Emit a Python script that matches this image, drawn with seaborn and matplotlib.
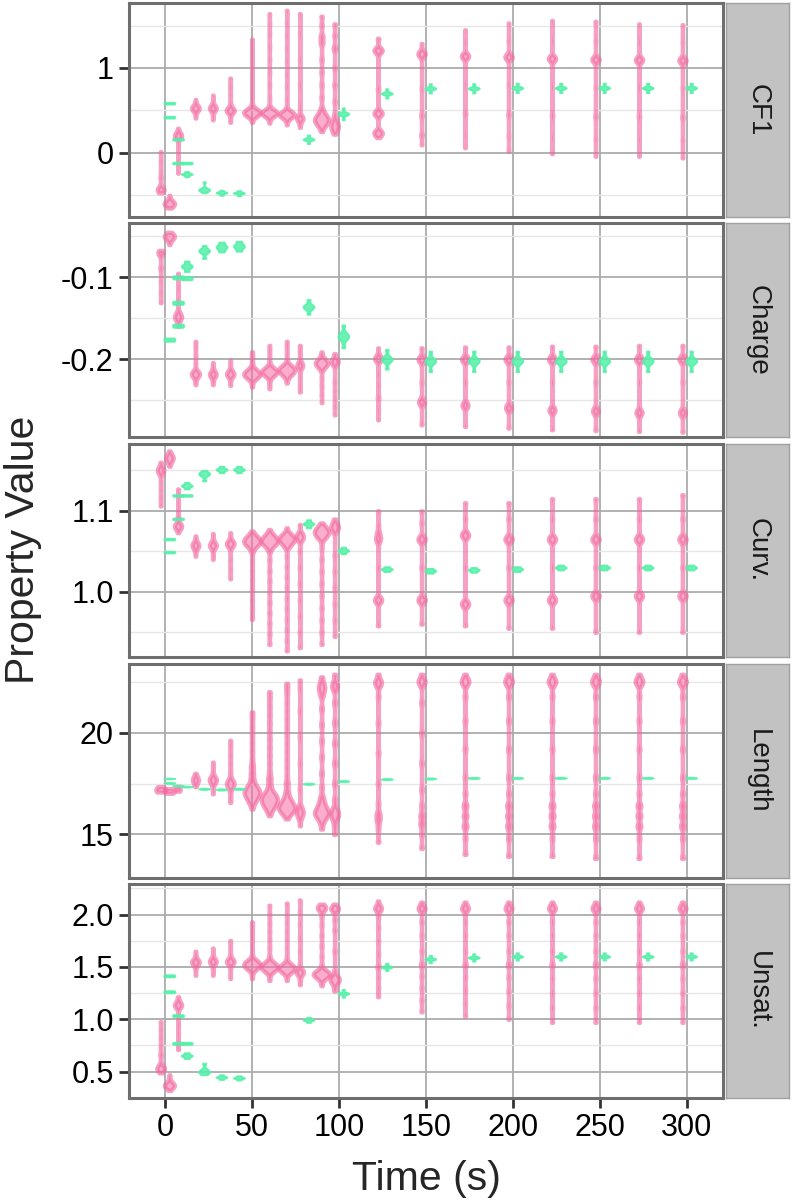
import numpy as np
import pandas as pd
import seaborn as sns
import matplotlib.pyplot as plt

sns.set_theme(style="whitegrid")
plt.rcParams['font.family'] = ['Liberation Sans', 'DejaVu Sans']
plt.rcParams['axes.unicode_minus'] = False

panels = ["CF1", "Charge", "Curv.", "Length", "Unsat."]
times = [0, 5, 10, 20, 30, 40, 50, 60, 70, 80, 90, 100, 125, 150, 175, 200, 225, 250, 275, 300]
green_times = [0, 5, 10, 20, 30, 40, 80, 100, 125, 150, 175, 200, 225, 250, 275, 300]

# pink violins: observations per time in `times`; (value, n) means n repeats
cf1_pink = [
    [-0.47, (-0.45, 3), (-0.435, 4), (-0.42, 3), -0.40, (-0.29, 2), -0.20, -0.10, 0.015],
    [-0.65, (-0.63, 3), (-0.615, 5), (-0.60, 7), (-0.585, 5), (-0.565, 3), -0.54, -0.50],
    [-0.24, -0.12, 0.0, 0.10, (0.18, 3), (0.20, 5), (0.22, 4), 0.25, 0.29],
    [0.41, 0.46, (0.505, 4), (0.525, 7), (0.545, 4), 0.58, 0.63],
    [0.39, 0.45, (0.505, 3), (0.525, 6), (0.545, 4), 0.60, 0.68],
    [0.36, 0.42, (0.48, 4), (0.50, 6), (0.52, 4), 0.58, 0.68, 0.78, 0.88],
    [0.36, 0.40, (0.43, 4), (0.45, 7), (0.47, 8), (0.49, 7), (0.51, 5), (0.53, 2), 0.60, 0.75, 0.90, 1.05, 1.20, 1.34],
    [0.35, 0.40, (0.43, 3), (0.45, 7), (0.47, 9), (0.49, 6), (0.51, 3), 0.55, 0.65, 0.80, 0.95, 1.10, 1.25, 1.40, 1.52, 1.64],
    [0.33, 0.38, (0.41, 3), (0.43, 6), (0.45, 9), (0.47, 6), (0.49, 3), 0.53, 0.63, 0.78, 0.93, 1.08, 1.23, 1.38, 1.53, 1.68],
    [0.30, 0.35, (0.39, 3), (0.41, 4), (0.43, 2), 0.55, 0.80, 1.10, 1.40, 1.64],
    [0.25, (0.30, 2), (0.33, 3), (0.36, 4), (0.39, 5), (0.42, 4), (0.45, 3), (0.49, 2), 0.53, 0.65, 0.80, 0.95, 1.10, (1.30, 2), (1.37, 2), 1.50, 1.61],
    [0.22, (0.26, 2), (0.30, 3), (0.34, 3), (0.39, 2), 0.45, 0.60, 0.80, 1.00, (1.23, 2), 1.38, 1.52],
    [0.18, (0.22, 2), (0.24, 3), 0.26, (0.45, 2), (0.47, 3), 0.49, 0.75, (1.19, 2), (1.21, 3), 1.23, 1.35],
    [0.094, (0.21, 2), (0.44, 2), 0.75, (1.14, 3), (1.165, 5), (1.19, 3), 1.29],
    [0.06, 0.22, (0.46, 2), 0.80, (1.12, 3), (1.14, 5), (1.16, 3), 1.30, 1.45],
    [0.02, 0.20, (0.45, 2), 0.80, (1.11, 3), (1.13, 5), (1.15, 3), 1.32, 1.53],
    [-0.01, 0.18, (0.44, 2), 0.78, (1.09, 3), (1.11, 5), (1.13, 3), 1.32, 1.56],
    [-0.04, 0.16, (0.43, 2), 0.77, (1.08, 3), (1.10, 5), (1.12, 3), 1.32, 1.55],
    [-0.04, 0.16, (0.43, 2), 0.77, (1.075, 3), (1.095, 5), (1.115, 3), 1.30, 1.52],
    [-0.06, 0.15, (0.42, 2), 0.76, (1.07, 3), (1.09, 5), (1.11, 3), 1.30, 1.51],
]
charge_pink = [
    [-0.131, -0.118, -0.105, (-0.0885, 2), (-0.072, 3), (-0.0695, 4), (-0.067, 2)],
    [-0.060, (-0.055, 3), (-0.052, 6), (-0.050, 7), (-0.048, 6), (-0.045, 3)],
    [-0.160, (-0.153, 3), (-0.149, 5), (-0.146, 4), (-0.142, 2), -0.128, -0.112, -0.095],
    [-0.231, -0.226, (-0.221, 4), (-0.218, 7), (-0.215, 4), -0.205, -0.195, -0.186, -0.178],
    [-0.231, -0.226, (-0.221, 4), (-0.218, 6), (-0.215, 3), -0.210, -0.204],
    [-0.232, -0.227, (-0.221, 4), (-0.218, 7), (-0.215, 4), -0.209, -0.201],
    [-0.234, -0.229, (-0.225, 3), (-0.222, 7), (-0.219, 10), (-0.216, 9), (-0.213, 5), (-0.210, 2), -0.205, -0.200, -0.195, -0.191],
    [-0.236, -0.230, -0.225, (-0.221, 4), (-0.218, 8), (-0.215, 10), (-0.212, 7), (-0.209, 3), -0.204, -0.197, -0.190, -0.183],
    [-0.229, -0.225, (-0.221, 3), (-0.218, 6), (-0.215, 8), (-0.212, 9), (-0.209, 6), (-0.206, 3), -0.200, -0.193, -0.185, -0.178],
    [-0.240, -0.232, -0.222, (-0.211, 2), (-0.208, 4), (-0.205, 3), -0.199, -0.191, -0.183],
    [-0.253, -0.243, -0.233, -0.223, (-0.212, 3), (-0.208, 6), (-0.205, 8), (-0.202, 6), (-0.199, 3), -0.195, -0.191],
    [-0.268, -0.258, -0.248, -0.238, -0.228, (-0.206, 3), (-0.203, 5), (-0.200, 3), -0.196, -0.193],
    [-0.274, -0.262, (-0.247, 2), -0.232, -0.218, (-0.202, 3), (-0.199, 5), (-0.196, 3), -0.186],
    [-0.280, (-0.255, 2), (-0.252, 3), (-0.249, 2), -0.228, (-0.203, 2), (-0.200, 4), (-0.197, 2), -0.186],
    [-0.282, (-0.259, 2), (-0.256, 3), (-0.253, 2), -0.228, (-0.203, 2), (-0.200, 4), (-0.197, 2), -0.185],
    [-0.284, (-0.262, 2), (-0.259, 3), (-0.256, 2), -0.228, (-0.203, 2), (-0.200, 4), (-0.197, 2), -0.185],
    [-0.286, (-0.265, 2), (-0.262, 3), (-0.259, 2), -0.228, (-0.203, 2), (-0.200, 4), (-0.197, 2), -0.184],
    [-0.287, (-0.266, 2), (-0.263, 3), (-0.260, 2), -0.228, (-0.203, 2), (-0.200, 4), (-0.197, 2), -0.184],
    [-0.288, (-0.268, 2), (-0.265, 3), (-0.262, 2), -0.228, (-0.203, 2), (-0.200, 4), (-0.197, 2), -0.183],
    [-0.289, (-0.268, 2), (-0.265, 3), (-0.262, 2), -0.228, (-0.203, 2), (-0.200, 4), (-0.197, 2), -0.183],
]
curv_pink = [
    [1.106, 1.116, 1.126, 1.136, (1.146, 3), (1.150, 5), (1.154, 3), 1.16],
    [1.155, 1.158, (1.161, 4), (1.165, 7), (1.169, 5), 1.174],
    [1.073, (1.078, 3), (1.081, 5), (1.084, 3), (1.091, 2), 1.10, 1.11, 1.12, 1.127],
    [1.044, 1.050, (1.054, 3), (1.057, 6), (1.060, 4), 1.064, 1.069],
    [1.040, 1.047, (1.054, 3), (1.057, 6), (1.060, 4), 1.065, 1.072],
    [1.016, 1.028, 1.040, (1.055, 3), (1.059, 7), (1.062, 4), 1.067, 1.073],
    [0.966, 0.978, 0.99, 1.002, 1.014, 1.026, 1.038, (1.050, 2), (1.055, 4), (1.059, 8), (1.063, 9), (1.067, 7), (1.071, 3), 1.075],
    [0.935, 0.948, 0.961, 0.974, 0.987, 1.00, 1.013, 1.026, 1.039, (1.051, 2), (1.056, 4), (1.060, 8), (1.064, 8), (1.068, 6), (1.072, 3), 1.077],
    [0.927, 0.94, 0.953, 0.966, 0.979, 0.992, 1.005, 1.018, 1.031, 1.044, (1.055, 3), (1.060, 6), (1.064, 8), (1.068, 7), (1.072, 4), 1.079],
    [0.931, 0.95, 0.97, 0.99, 1.01, 1.03, 1.05, (1.064, 3), (1.068, 4), (1.072, 3), 1.083],
    [0.935, 0.95, 0.965, 0.98, 0.995, 1.01, 1.025, 1.04, 1.055, (1.064, 2), (1.068, 5), (1.072, 7), (1.076, 7), (1.080, 4), 1.083, 1.085],
    [0.945, 0.965, 0.985, 1.005, 1.025, 1.045, (1.074, 2), (1.078, 4), (1.082, 4), (1.086, 2), 1.09],
    [0.958, (0.987, 2), (0.990, 3), (0.993, 2), 1.03, (1.062, 2), (1.067, 3), (1.073, 2), 1.082, 1.10],
    [0.960, (0.987, 2), (0.990, 3), (0.993, 2), 1.03, (1.062, 2), (1.065, 3), (1.068, 2), 1.085, 1.100],
    [0.958, (0.982, 2), (0.985, 3), (0.988, 2), 1.03, (1.067, 2), (1.070, 3), (1.073, 2), 1.09, 1.110],
    [0.955, (0.987, 2), (0.990, 3), (0.993, 2), 1.03, (1.062, 2), (1.065, 3), (1.068, 2), 1.09, 1.110],
    [0.955, (0.987, 2), (0.990, 3), (0.993, 2), 1.03, (1.062, 2), (1.065, 3), (1.068, 2), 1.09, 1.115],
    [0.950, (0.992, 2), (0.995, 3), (0.998, 2), 1.03, (1.062, 2), (1.065, 3), (1.068, 2), 1.09, 1.115],
    [0.950, (0.992, 2), (0.995, 3), (0.998, 2), 1.03, (1.062, 2), (1.065, 3), (1.068, 2), 1.09, 1.115],
    [0.950, (0.992, 2), (0.995, 3), (0.998, 2), 1.03, (1.062, 2), (1.065, 3), (1.068, 2), 1.09, 1.120],
]
length_pink = [
    [17.08, (17.13, 4), (17.17, 7), (17.21, 7), (17.25, 4), 17.35],
    [17.02, (17.07, 4), (17.11, 7), (17.15, 7), (17.19, 4), 17.25],
    [17.12, (17.19, 3), (17.24, 4), (17.28, 2), 17.36],
    [17.35, 17.45, (17.60, 3), (17.68, 5), (17.76, 3), 17.88, 18.01],
    [16.99, 17.25, 17.45, (17.60, 3), (17.68, 6), (17.76, 3), 17.95, 18.2, 18.56],
    [16.57, 16.85, 17.15, (17.35, 3), (17.48, 4), (17.6, 3), 17.75, 18.1, 18.5, 18.9, 19.3, 19.64],
    [16.24, (16.5, 2), (16.7, 4), (16.9, 5), (17.07, 6), (17.25, 5), (17.45, 3), (17.7, 2), (18.0, 2), (18.35, 2), 18.7, 19.1, 19.5, 19.9, 20.3, 20.7, 21.04],
    [15.91, (16.15, 2), (16.35, 4), (16.55, 5), (16.72, 5), (16.9, 5), (17.1, 3), (17.4, 2), (17.75, 2), 18.1, 18.5, 18.9, 19.3, 19.7, 20.1, 20.5, 20.9, 21.3, 21.7, 22.04],
    [15.75, (15.95, 2), (16.1, 4), (16.25, 5), (16.4, 5), (16.58, 4), (16.8, 3), (17.1, 2), (17.5, 2), 17.9, 18.3, 18.7, 19.1, 19.5, 19.9, 20.3, 20.7, 21.1, 21.5, 21.9, 22.2, 22.45],
    [15.41, (15.8, 2), (16.0, 3), (16.15, 3), (16.35, 2), 17.2, 18.5, 19.8, 21.1, 22.2, 22.62],
    [15.25, (15.6, 2), (15.85, 4), (16.05, 5), (16.25, 4), (16.5, 3), (16.8, 2), 17.3, 18.0, 18.8, 19.6, 20.4, 21.2, (21.9, 2), (22.2, 3), (22.45, 2), 22.77],
    [14.99, 15.4, (15.75, 2), (16.0, 3), (16.25, 2), 16.7, 17.5, 18.5, 19.5, 20.5, 21.5, (22.2, 2), (22.45, 2), 22.9],
    [14.6, 15.3, (15.7, 2), (16.0, 2), 16.5, 17.5, 19.0, 20.5, 21.8, (22.35, 2), (22.55, 3), 22.9],
    [14.3, 15.0, (15.5, 2), (15.9, 2), 16.4, 17.2, 18.5, 20.0, 21.5, (22.4, 2), (22.6, 3), 22.9],
    [14.0, 14.8, (15.4, 2), (15.9, 2), (16.4, 2), 17.0, 17.8, 19.2, 20.6, 21.8, (22.4, 2), (22.6, 3), 22.9],
    [13.9, 14.8, (15.4, 2), (15.9, 2), (16.4, 2), 17.0, 17.8, 19.2, 20.6, 21.8, (22.4, 2), (22.6, 3), 22.9],
    [13.9, 14.8, (15.4, 2), (15.9, 2), (16.4, 2), 17.0, 17.8, 19.2, 20.6, 21.8, (22.4, 2), (22.6, 3), 22.9],
    [13.8, 14.8, (15.4, 2), (15.9, 2), (16.4, 2), 17.0, 17.8, 19.2, 20.6, 21.8, (22.4, 2), (22.6, 3), 22.9],
    [13.8, 14.8, (15.4, 2), (15.9, 2), (16.4, 2), 17.0, 17.8, 19.2, 20.6, 21.8, (22.4, 2), (22.6, 3), 22.9],
    [13.8, 14.8, (15.4, 2), (15.9, 2), (16.4, 2), 17.0, 17.8, 19.2, 20.6, 21.8, (22.4, 2), (22.6, 3), 22.9],
]
unsat_pink = [
    [0.488, (0.51, 3), (0.53, 5), (0.55, 3), 0.58, (0.66, 2), 0.74, 0.82, 0.90, 0.978],
    [0.32, (0.345, 4), (0.36, 6), (0.375, 7), (0.39, 4), 0.42, 0.45, 0.47],
    [0.71, 0.79, 0.87, 0.95, 1.03, (1.115, 3), (1.135, 5), (1.155, 3), 1.19, 1.215],
    [1.42, 1.48, (1.525, 4), (1.545, 7), (1.565, 4), 1.61, 1.65],
    [1.42, 1.48, (1.53, 3), (1.55, 6), (1.57, 4), 1.62, 1.68],
    [1.389, 1.46, (1.53, 4), (1.55, 6), (1.57, 4), 1.62, 1.69, 1.753],
    [1.389, 1.43, (1.47, 3), (1.49, 6), (1.51, 7), (1.53, 8), (1.55, 6), (1.57, 3), 1.62, 1.68, 1.75, 1.82, 1.88, 1.93],
    [1.37, 1.41, (1.45, 3), (1.47, 6), (1.49, 7), (1.51, 7), (1.53, 6), (1.555, 3), 1.60, 1.68, 1.76, 1.84, 1.92, 2.0, 2.09],
    [1.37, 1.41, (1.44, 3), (1.46, 6), (1.48, 8), (1.50, 7), (1.52, 5), (1.545, 2), 1.60, 1.68, 1.76, 1.84, 1.92, 2.0, 2.11],
    [1.33, 1.38, (1.43, 3), (1.45, 4), (1.47, 3), 1.53, 1.65, 1.78, 1.91, 2.03, 2.14],
    [1.32, 1.36, (1.39, 3), (1.41, 5), (1.43, 7), (1.45, 5), (1.47, 3), 1.52, 1.6, 1.7, 1.8, 1.9, 1.98, (2.045, 3), (2.065, 4), (2.085, 2), 2.10],
    [1.27, 1.31, (1.35, 3), (1.38, 4), (1.41, 3), 1.46, 1.65, 1.85, 1.95, (2.045, 3), (2.065, 3), 2.10],
    [1.215, 1.30, 1.40, (1.50, 2), 1.62, 1.75, 1.88, 1.98, (2.04, 2), (2.06, 3), (2.08, 2), 2.13],
    [1.07, 1.18, 1.30, 1.41, (1.52, 2), 1.65, 1.80, 1.93, (2.04, 2), (2.06, 3), (2.08, 2), 2.12],
    [1.03, 1.15, 1.28, 1.40, (1.52, 2), 1.65, 1.80, 1.93, (2.04, 2), (2.06, 3), (2.08, 2), 2.12],
    [1.00, 1.13, 1.27, 1.40, (1.52, 2), 1.65, 1.80, 1.93, (2.04, 2), (2.06, 3), (2.08, 2), 2.12],
    [0.97, 1.11, 1.25, 1.39, (1.52, 2), 1.65, 1.80, 1.93, (2.04, 2), (2.06, 3), (2.08, 2), 2.12],
    [0.97, 1.11, 1.25, 1.39, (1.52, 2), 1.65, 1.80, 1.93, (2.04, 2), (2.06, 3), (2.08, 2), 2.12],
    [0.97, 1.11, 1.25, 1.39, (1.52, 2), 1.65, 1.80, 1.93, (2.04, 2), (2.06, 3), (2.08, 2), 2.12],
    [0.97, 1.11, 1.25, 1.39, (1.52, 2), 1.65, 1.80, 1.93, (2.04, 2), (2.06, 3), (2.08, 2), 2.12],
]

# green violins: one list of clusters per time in `green_times`
cf1_green = [
    [[0.575, 0.58, 0.585, 0.59, 0.595], [0.41, 0.415, 0.42, 0.425, 0.43]],
    [[0.15, 0.155, 0.16, 0.165, 0.17], [-0.13, -0.125, -0.12, -0.115, -0.11]],
    [[-0.13, -0.125, -0.12, -0.115, -0.11], [-0.28, -0.255, -0.25, -0.245, -0.22]],
    [[-0.47, -0.445, -0.44, -0.435, -0.43, -0.42, -0.34]],
    [[-0.50, -0.475, -0.47, -0.465, -0.46, -0.44]],
    [[-0.505, -0.48, -0.475, -0.47, -0.465, -0.445]],
    [[0.11, 0.15, 0.158, 0.16, 0.162, 0.17, 0.21]],
    [[0.39, 0.45, 0.458, 0.46, 0.462, 0.47, 0.53]],
    [[0.645, 0.69, 0.697, 0.70, 0.703, 0.71, 0.755]],
    [[0.705, 0.75, 0.757, 0.76, 0.763, 0.77, 0.815]],
    [[0.705, 0.75, 0.757, 0.76, 0.763, 0.77, 0.815]],
    [[0.71, 0.755, 0.762, 0.765, 0.768, 0.775, 0.82]],
    [[0.71, 0.755, 0.762, 0.765, 0.768, 0.775, 0.82]],
    [[0.71, 0.755, 0.762, 0.765, 0.768, 0.775, 0.82]],
    [[0.71, 0.755, 0.762, 0.765, 0.768, 0.775, 0.82]],
    [[0.71, 0.755, 0.762, 0.765, 0.768, 0.775, 0.82]],
]
charge_green = [
    [[-0.178, -0.177, -0.176, -0.175, -0.174]],
    [[-0.102, -0.101, -0.100, -0.099, -0.098], [-0.133, -0.132, -0.131, -0.130, -0.129], [-0.161, -0.160, -0.159, -0.158, -0.157]],
    [[-0.093, -0.088, -0.0865, -0.085, -0.080], [-0.103, -0.102, -0.101, -0.100, -0.099]],
    [[-0.077, -0.070, -0.068, -0.067, -0.066, -0.061]],
    [[-0.069, -0.065, -0.063, -0.061, -0.057]],
    [[-0.068, -0.064, -0.062, -0.060, -0.056]],
    [[-0.145, -0.139, -0.137, -0.136, -0.135, -0.133, -0.127]],
    [[-0.186, -0.176, -0.173, -0.172, -0.171, -0.168, -0.158]],
    [[-0.212, -0.203, -0.201, -0.200, -0.199, -0.197, -0.188]],
    [[-0.215, -0.205, -0.203, -0.202, -0.201, -0.199, -0.190]],
    [[-0.215, -0.205, -0.203, -0.202, -0.201, -0.199, -0.190]],
    [[-0.215, -0.205, -0.203, -0.202, -0.201, -0.199, -0.190]],
    [[-0.215, -0.205, -0.203, -0.202, -0.201, -0.199, -0.190]],
    [[-0.215, -0.205, -0.203, -0.202, -0.201, -0.199, -0.190]],
    [[-0.215, -0.205, -0.203, -0.202, -0.201, -0.199, -0.190]],
    [[-0.215, -0.205, -0.203, -0.202, -0.201, -0.199, -0.190]],
]
curv_green = [
    [[1.064, 1.0645, 1.065, 1.0655, 1.066], [1.048, 1.0485, 1.049, 1.0495, 1.05]],
    [[1.118, 1.1185, 1.119, 1.1195, 1.12], [1.089, 1.0895, 1.09, 1.0905, 1.091]],
    [[1.127, 1.13, 1.131, 1.132, 1.135], [1.118, 1.1185, 1.119, 1.1195, 1.12]],
    [[1.137, 1.143, 1.145, 1.146, 1.147, 1.15]],
    [[1.147, 1.150, 1.151, 1.152, 1.155]],
    [[1.147, 1.150, 1.151, 1.152, 1.155]],
    [[1.079, 1.083, 1.084, 1.085, 1.089]],
    [[1.047, 1.050, 1.051, 1.052, 1.055]],
    [[1.025, 1.027, 1.028, 1.029, 1.031]],
    [[1.023, 1.025, 1.026, 1.027, 1.029]],
    [[1.024, 1.026, 1.027, 1.028, 1.030]],
    [[1.025, 1.027, 1.028, 1.029, 1.031]],
    [[1.027, 1.029, 1.030, 1.031, 1.033]],
    [[1.027, 1.029, 1.030, 1.031, 1.033]],
    [[1.027, 1.029, 1.030, 1.031, 1.033]],
    [[1.027, 1.029, 1.030, 1.031, 1.033]],
]
length_green = [
    [[17.73, 17.745, 17.75, 17.755, 17.77], [17.51, 17.525, 17.53, 17.535, 17.55]],
    [[17.38, 17.395, 17.40, 17.405, 17.42]],
    [[17.33, 17.345, 17.35, 17.355, 17.37]],
    [[17.21, 17.23, 17.24, 17.25, 17.27]],
    [[17.18, 17.20, 17.21, 17.22, 17.24]],
    [[17.21, 17.23, 17.24, 17.25, 17.27]],
    [[17.46, 17.48, 17.49, 17.50, 17.52]],
    [[17.59, 17.61, 17.62, 17.63, 17.65]],
    [[17.69, 17.71, 17.72, 17.73, 17.75]],
    [[17.72, 17.74, 17.75, 17.76, 17.78]],
    [[17.75, 17.77, 17.78, 17.79, 17.81]],
    [[17.75, 17.77, 17.78, 17.79, 17.81]],
    [[17.75, 17.77, 17.78, 17.79, 17.81]],
    [[17.75, 17.77, 17.78, 17.79, 17.81]],
    [[17.75, 17.77, 17.78, 17.79, 17.81]],
    [[17.75, 17.77, 17.78, 17.79, 17.81]],
]
unsat_green = [
    [[1.405, 1.41, 1.415, 1.42, 1.425], [1.253, 1.258, 1.263, 1.268, 1.273]],
    [[1.025, 1.03, 1.035, 1.04, 1.045], [0.76, 0.765, 0.77, 0.775, 0.78]],
    [[0.76, 0.765, 0.77, 0.775, 0.78], [0.625, 0.645, 0.653, 0.66, 0.68]],
    [[0.47, 0.49, 0.497, 0.505, 0.525, 0.58]],
    [[0.425, 0.442, 0.447, 0.452, 0.47]],
    [[0.42, 0.435, 0.44, 0.445, 0.46]],
    [[0.97, 0.99, 0.994, 0.998, 1.018]],
    [[1.21, 1.24, 1.245, 1.247, 1.249, 1.254, 1.285]],
    [[1.465, 1.493, 1.498, 1.50, 1.502, 1.507, 1.535]],
    [[1.54, 1.568, 1.573, 1.575, 1.577, 1.582, 1.61]],
    [[1.555, 1.583, 1.588, 1.59, 1.592, 1.597, 1.625]],
    [[1.565, 1.593, 1.598, 1.60, 1.602, 1.607, 1.635]],
    [[1.565, 1.593, 1.598, 1.60, 1.602, 1.607, 1.635]],
    [[1.565, 1.593, 1.598, 1.60, 1.602, 1.607, 1.635]],
    [[1.565, 1.593, 1.598, 1.60, 1.602, 1.607, 1.635]],
    [[1.565, 1.593, 1.598, 1.60, 1.602, 1.607, 1.635]],
]

pink_sets = [cf1_pink, charge_pink, curv_pink, length_pink, unsat_pink]
green_sets = [cf1_green, charge_green, curv_green, length_green, unsat_green]

ylims = [(-0.753, 1.765), (-0.295, -0.034), (0.919, 1.183), (12.85, 23.41), (0.248, 2.29)]
yticks = [[0, 1], [-0.2, -0.1], [1.0, 1.1], [15, 20], [0.5, 1.0, 1.5, 2.0]]
ylabels = [["0", "1"], ["-0.2", "-0.1"], ["1.0", "1.1"], ["15", "20"], ["0.5", "1.0", "1.5", "2.0"]]
yminor = [[-0.5, 0.5, 1.5], [-0.25, -0.15, -0.05], [0.95, 1.05, 1.15], [17.5, 22.5], [0.75, 1.25, 1.75, 2.25]]
# kernel bandwidth of the pink violins, in data units of each panel
kde_bw = [0.03, 0.003, 0.003, 0.15, 0.024]


def fixed_bw(h):
    # scipy wants a factor relative to the sample std
    return lambda kde: h / max(float(np.std(kde.dataset, ddof=1)), 1e-12)


def expand(spec):
    out = []
    for s in spec:
        if isinstance(s, tuple):
            out += [s[0]] * s[1]
        else:
            out.append(s)
    return out


# long table, pink dodged left / green dodged right where both exist
rows = []
for name, pset, gset in zip(panels, pink_sets, green_sets):
    for t, spec in zip(times, pset):
        pos = t - 2.5 if t in green_times else t
        for v in expand(spec):
            rows.append((name, "sim", pos, "a", v))
    for t, clusters in zip(green_times, gset):
        pos = t + 2.5 if t in times else t
        for k, cl in enumerate(clusters):
            for v in cl:
                rows.append((name, "ref", pos, "abc"[k], v))
df = pd.DataFrame(rows, columns=["panel", "series", "pos", "cluster", "value"])

PINK_FACE = (0.97, 0.42, 0.64, 0.55)
PINK_EDGE = (0.95, 0.40, 0.62, 0.62)
GREEN = (0.33, 0.94, 0.66, 0.85)

fig, axes = plt.subplots(5, 1, figsize=(7.92, 12.02), dpi=100, sharex=True)
fig.subplots_adjust(left=129/792, right=723/792, top=1-3/1202, bottom=1-1098/1202, hspace=0.0304)

for i, (ax, name) in enumerate(zip(axes, panels)):
    sub = df[df.panel == name]
    n0 = len(ax.collections)
    sns.violinplot(data=sub[sub.series == "sim"], x="pos", y="value", orient="x",
                   native_scale=True, density_norm="count", width=1.9, cut=0,
                   inner=None, bw_method=fixed_bw(kde_bw[i]), gridsize=300,
                   color="hotpink", ax=ax)
    for c in ax.collections[n0:]:
        c.set_facecolor(PINK_FACE)
        c.set_edgecolor(PINK_EDGE)
        c.set_linewidth(3.1)
    n1 = len(ax.collections)
    sns.violinplot(data=sub[sub.series == "ref"], x="pos", y="value", hue="cluster",
                   dodge=False, orient="x", native_scale=True, density_norm="width",
                   width=1.25, cut=0, inner=None, bw_adjust=0.6, gridsize=100,
                   palette={"a": "mediumspringgreen", "b": "mediumspringgreen", "c": "mediumspringgreen"},
                   legend=False, ax=ax)
    for c in ax.collections[n1:]:
        c.set_facecolor(GREEN)
        c.set_edgecolor(GREEN)
        c.set_linewidth(1.4)

    ax.set_xlabel("")
    ax.set_ylabel("")
    ax.set_xlim(-20.7, 320.8)
    ax.set_ylim(*ylims[i])
    ax.set_yticks(yticks[i])
    ax.set_yticklabels(ylabels[i])
    ax.set_yticks(yminor[i], minor=True)
    ax.set_xticks([0, 50, 100, 150, 200, 250, 300])
    ax.set_facecolor("white")
    ax.set_axisbelow(True)
    ax.grid(which="major", axis="both", color="#ABABAB", linewidth=1.3)
    ax.grid(which="minor", axis="y", color="#E6E6E6", linewidth=1.0)
    ax.grid(which="minor", axis="x", visible=False)
    for s in ax.spines.values():
        s.set_color("#6E6E6E")
        s.set_linewidth(2.2)
    ax.tick_params(axis="y", which="major", length=7, width=2, color="#333333",
                   labelsize=22, labelcolor="black", pad=4, left=True)
    ax.tick_params(axis="both", which="minor", length=0)
    if i < 4:
        ax.tick_params(axis="x", which="major", length=0, labelbottom=False)
    else:
        ax.tick_params(axis="x", which="major", length=7, width=2, color="#333333",
                       labelsize=22, labelcolor="black", pad=3.5, bottom=True)

    # facet strip on the right
    p = ax.get_position()
    sax = fig.add_axes([726/792, p.y0, 63/792, p.height])
    sax.set_facecolor("#C2C2C2")
    sax.set_xticks([])
    sax.set_yticks([])
    sax.grid(False)
    for s in sax.spines.values():
        s.set_color("#A0A0A0")
        s.set_linewidth(1.0)
    sax.text(0.5, 0.5, name, rotation=-90, ha="center", va="center",
             fontsize=20, color="#1A1A1A", transform=sax.transAxes)

fig.text(23/792, 1-550/1202, "Property Value", rotation=90, ha="center", va="center", fontsize=29.5)
fig.text(426/792, 1-1190/1202, "Time (s)", ha="center", va="baseline", fontsize=29.5)

fig.savefig("out.png", dpi=100)
